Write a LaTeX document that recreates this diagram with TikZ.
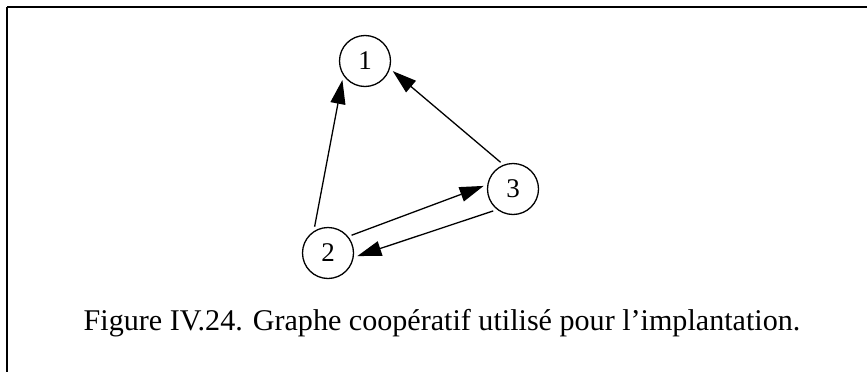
\documentclass[tikz,border=0pt]{standalone}
\usepackage{fontspec}
\setmainfont{Liberation Serif}
\usetikzlibrary{arrows.meta, positioning}

\tikzset{
    etat/.style={draw, circle, line width=1.3pt, minimum size=51pt, inner sep=0pt, outer sep=4pt, font=\fontsize{27}{30}\selectfont},
    fleche/.style={line width=1.3pt, -{Triangle[length=24pt, width=15pt]}}
}

\begin{document}
\begin{tikzpicture}[x=1pt, y=-1pt]
    \useasboundingbox (0,0) rectangle (867,372);
    % cadre
    \draw[line width=2pt] (7,7) -- (867,7);
    \draw[line width=1.4pt] (7,7) -- (7,372);

    \node[etat] (n1) at (365,61) {1};
    \node[etat] (n2) at (328,253) {2};
    \node[etat] (n3) at (513,189) {3};

    \draw[fleche] (n2.117) -- (n1.220);
    \draw[fleche] (n3.115) -- (n1.-20);
    \draw[fleche] (n2.37) -- (n3.174);
    \draw[fleche] (n3.228) -- (n2.354);

    \node[anchor=base, font=\fontsize{30.1}{33}\selectfont] (legende) at (442,330) {Figure IV.24. Graphe coopératif utilisé pour l’implantation.};
\end{tikzpicture}
\end{document}
